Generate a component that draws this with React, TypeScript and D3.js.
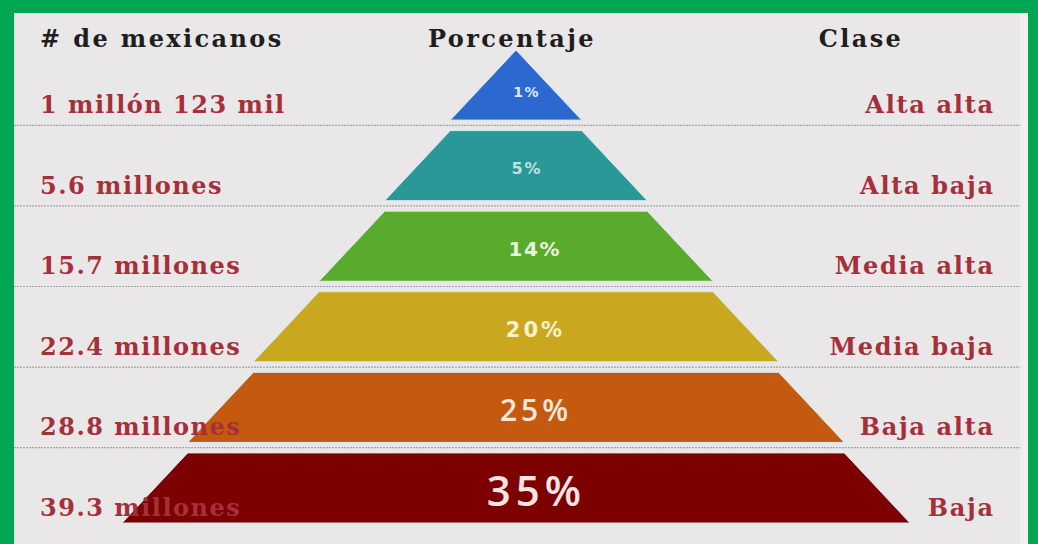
import * as d3 from "d3";
import React, { useEffect, useRef } from "react";

// datos de la pirámide (de arriba hacia abajo)
const personas = [
  "1 millón 123 mil",
  "5.6 millones",
  "15.7 millones",
  "22.4 millones",
  "28.8 millones",
  "39.3 millones",
];
const porcentajes = [1, 5, 14, 20, 25, 35];
const clases = ["Alta alta", "Alta baja", "Media alta", "Media baja", "Baja alta", "Baja"];
const encabezados = ["# de mexicanos", "Porcentaje", "Clase"];

const colores = ["#2b68d0", "#2a9898", "#5aaa2e", "#c9a81f", "#c45910", "#7c0000"];
const coloresTexto = ["#dce9ff", "#bfe3df", "#e8f5dc", "#fbf1d0", "#f7e6da", "#f8e4e4"];
const tamanos = [14, 16, 20, 21, 30, 42];
const espaciado = [1.5, 2, 1.5, 3, 4, 5];

const App: React.FC = () => {
  const svgRef = useRef<SVGSVGElement | null>(null);

  useEffect(() => {
    const svg = d3.select(svgRef.current);
    const width = 1038;
    const height = 544;
    const cx = 516;

    svg.selectAll("*").remove();

    // marco verde y fondo
    svg.append("rect").attr("width", width).attr("height", height).attr("fill", "#00a651");
    svg.append("rect").attr("x", 14).attr("y", 13).attr("width", 1014).attr("height", height - 13).attr("fill", "#f0eff0");
    svg.append("rect").attr("x", 14).attr("y", 13).attr("width", 1006).attr("height", height - 13).attr("fill", "#e9e7e8");

    const idx = d3.range(porcentajes.length);

    const y = d3.scaleBand<number>().domain(idx).range([50, 523]).paddingInner(0.13);
    const bw = y.bandwidth();
    const half = d3.scaleLinear().domain([0, porcentajes.length]).range([0, 394]);

    // líneas punteadas entre niveles
    svg
      .append("g")
      .selectAll("line")
      .data(idx.slice(1))
      .join("line")
      .attr("x1", 14)
      .attr("x2", 1020)
      .attr("y1", (i) => (y(i - 1)! + bw + y(i)!) / 2)
      .attr("y2", (i) => (y(i - 1)! + bw + y(i)!) / 2)
      .attr("stroke", "#a3a3a3")
      .attr("stroke-width", 1.2)
      .attr("stroke-dasharray", "2,1");

    // niveles de la pirámide
    svg
      .append("g")
      .selectAll("path")
      .data(idx)
      .join("path")
      .attr("d", (i) => {
        const y0 = y(i)!;
        const y1 = y0 + bw;
        const pts: [number, number][] = [
          [cx - half(i), y0],
          [cx + half(i), y0],
          [cx + half(i + 1), y1],
          [cx - half(i + 1), y1],
        ];
        return d3.line()(pts) + "Z";
      })
      .attr("fill", (i) => colores[i])
      .attr("stroke", "#d6ebf3")
      .attr("stroke-width", 1);

    // porcentajes
    svg
      .append("g")
      .selectAll("text")
      .data(idx)
      .join("text")
      .attr("x", (i) => cx + (i < 2 ? 10 : 18) + espaciado[i] / 2)
      .attr("y", (i) => (i === 0 ? y(i)! + bw * 0.6 : y(i)! + bw / 2 + 3))
      .attr("dy", "0.36em")
      .attr("text-anchor", "middle")
      .attr("font-family", (i) => (i < 4 ? "'DejaVu Sans', sans-serif" : "'Open Sans', sans-serif"))
      .attr("font-weight", (i) => (i < 4 ? 700 : 600))
      .attr("font-size", (i) => tamanos[i])
      .attr("letter-spacing", (i) => espaciado[i])
      .attr("fill", (i) => coloresTexto[i])
      .text((i) => `${porcentajes[i]}%`);

    const serif = "'DejaVu Serif', serif";

    // número de mexicanos (izquierda)
    svg
      .append("g")
      .selectAll("text")
      .data(idx)
      .join("text")
      .attr("x", 40)
      .attr("y", (i) => y(i)! + bw - 7)
      .attr("font-family", serif)
      .attr("font-weight", 700)
      .attr("font-size", 24)
      .attr("letter-spacing", 1.5)
      .attr("fill", "#a5303a")
      .text((i) => personas[i]);

    // clase (derecha)
    svg
      .append("g")
      .selectAll("text")
      .data(idx)
      .join("text")
      .attr("x", 994.7)
      .attr("y", (i) => y(i)! + bw - 7)
      .attr("text-anchor", "end")
      .attr("font-family", serif)
      .attr("font-weight", 700)
      .attr("font-size", 24)
      .attr("letter-spacing", 1.7)
      .attr("fill", "#a5303a")
      .text((i) => clases[i]);

    // encabezados
    const hx = [40, 512, 861];
    const anchors = ["start", "middle", "middle"];
    svg
      .append("g")
      .selectAll("text")
      .data(encabezados)
      .join("text")
      .attr("x", (_, i) => hx[i])
      .attr("y", 47)
      .attr("text-anchor", (_, i) => anchors[i])
      .attr("font-family", serif)
      .attr("font-weight", 700)
      .attr("font-size", 24)
      .attr("letter-spacing", 2.4)
      .attr("fill", "#1e1e1e")
      .text((d) => d);
  }, []);

  return (
    <svg
      ref={svgRef}
      width={1038}
      height={544}
      style={{ position: "absolute", left: 0, top: 0 }}
    ></svg>
  );
};

export default App;
